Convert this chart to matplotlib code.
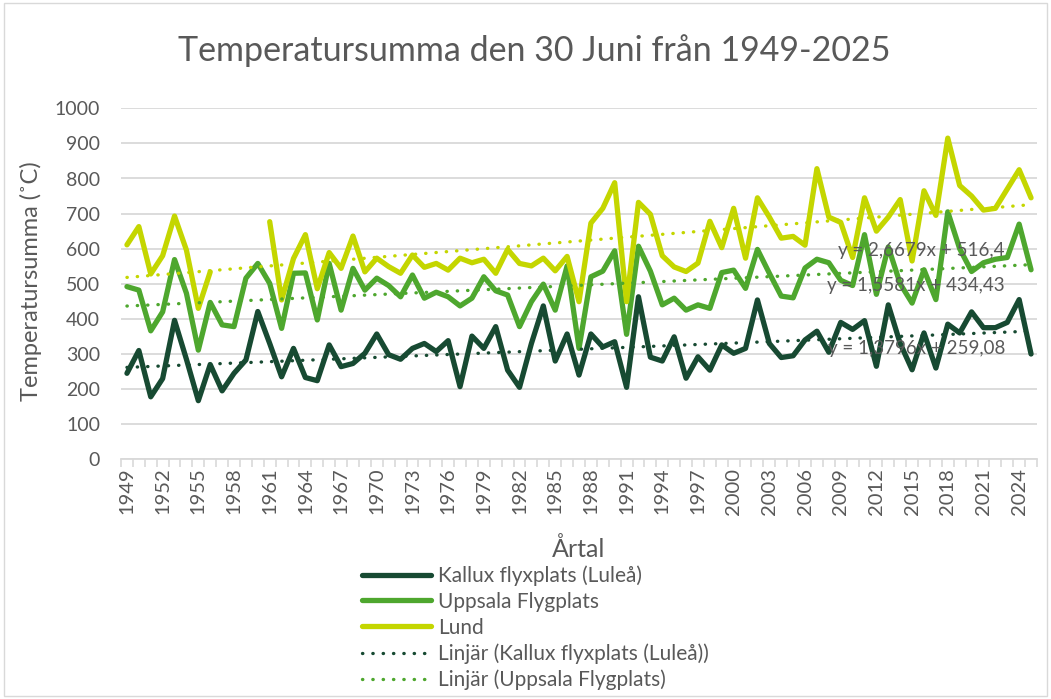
import numpy as np
import matplotlib.pyplot as plt
from matplotlib.patches import Rectangle

years = np.arange(1949, 2026)

kallux = [245, 310, 178, 230, 396, 285, 167, 270, 195, 245,
          283, 421, 330, 235, 316, 233, 224, 326, 264, 273,
          302, 357, 298, 285, 316, 330, 307, 338, 207, 351,
          316, 378, 254, 205, 330, 437, 280, 357, 240, 357,
          320, 335, 205, 463, 291, 280, 349, 231, 292, 254,
          326, 302, 316, 454, 330, 290, 295, 340, 365, 305,
          390, 370, 395, 265, 440, 330, 255, 360, 260, 385,
          360, 420, 375, 375, 390, 455, 300]

uppsala = [492, 482, 366, 420, 569, 473, 311, 447, 383, 378,
           516, 558, 501, 373, 530, 531, 397, 558, 425, 544,
           482, 516, 495, 463, 525, 459, 476, 463, 437, 459,
           520, 480, 468, 378, 449, 499, 425, 551, 316, 520,
           536, 594, 356, 607, 536, 440, 459, 425, 440, 430,
           532, 539, 487, 598, 530, 465, 460, 545, 570, 560,
           510, 495, 640, 470, 605, 500, 445, 540, 455, 705,
           600, 535, 560, 570, 575, 670, 540]

lund = [611, 663, 528, 580, 693, 596, 430, 534, None, None,
        None, None, 677, 454, 572, 640, 486, 589, 544, 636,
        534, 573, 549, 530, 582, 547, 558, 539, 573, 560,
        570, 530, 598, 558, 551, 573, 537, 578, 449, 673,
        715, 788, 449, 732, 698, 580, 548, 535, 559, 678,
        603, 715, 573, 745, 690, 630, 635, 610, 828, 690,
        675, 575, 745, 650, 690, 740, 565, 765, 695, 915,
        780, 750, 710, 715, 770, 825, 745]

names = ["Kallux flyxplats (Luleå)", "Uppsala Flygplats", "Lund"]
colors = ["#174a32", "#4ea72e", "#c4d600"]
equations = ["y = 1,3796x + 259,08", "y = 1,5581x + 434,43", "y = 2,6679x + 516,4"]

plt.rcParams['font.family'] = ['Lato', 'DejaVu Sans']
grey = '#595959'

fig = plt.figure(figsize=(10.51, 6.99), dpi=100)
W, H = 1051, 699
ax = fig.add_axes([121 / W, 1 - 459.3 / H, (1037 - 121) / W, (459.3 - 108.3) / H])

# data lines and linear trends
series = [np.array(s, dtype=float) for s in (kallux, uppsala, lund)]
idx = np.arange(1, len(years) + 1)
for vals, name, col in zip(series, names, colors):
    ax.plot(years, vals, color=col, lw=3.8, label=name,
            solid_capstyle='round', solid_joinstyle='round', zorder=3)

for i, (vals, name, col) in enumerate(zip(series, names, colors)):
    ok = ~np.isnan(vals)
    k, m = np.polyfit(idx[ok], vals[ok], 1)
    lab = 'Linjär (' + name + ')' if i < 2 else '_nolegend_'
    ax.plot(years, k * idx + m, color=col, lw=2.4, linestyle=(0, (0.1, 3.0)),
            dash_capstyle='round', label=lab, zorder=4)

ax.set_xlim(1948.5, 2025.5)
ax.set_ylim(0, 1000)
ax.set_yticks(range(0, 1001, 100))
ax.set_xticks(years[::3])
ax.set_xticks(np.arange(1948.5, 2026, 1), minor=True)
ax.tick_params(axis='x', which='major', length=0, labelrotation=90, labelsize=14.5,
               labelcolor=grey, pad=6)
ax.tick_params(axis='x', which='minor', length=6, color='#d9d9d9', width=1.2)
ax.tick_params(axis='y', length=0, labelsize=14, labelcolor=grey, pad=15)
ax.grid(axis='y', color='#d9d9d9', lw=1.3)
ax.set_axisbelow(True)
for s in ('top', 'right', 'left'):
    ax.spines[s].set_visible(False)
ax.spines['bottom'].set_color('#d9d9d9')
ax.spines['bottom'].set_linewidth(1.3)

# titles
fig.text(0.508, 1 - 51 / H, 'Temperatursumma den 30 Juni från 1949-2025',
         ha='center', va='center', fontsize=24.5, color=grey)
fig.text(31 / W, 1 - 281 / H, 'Temperatursumma (˚C)', rotation=90,
         ha='center', va='center', fontsize=17, color=grey)
fig.text(579 / W, 1 - 549 / H, 'Årtal', ha='center', va='center',
         fontsize=18, color=grey)

# trendline equations
for eq, yy in zip(equations, (348, 285, 250)):
    fig.text(1005 / W, 1 - yy / H, eq, ha='right', va='center',
             fontsize=13.5, color=grey, zorder=5)

h, l = ax.get_legend_handles_labels()
fig.legend(h, l, loc='upper left', bbox_to_anchor=(354 / W, 1 - 557 / H),
           frameon=False, fontsize=15, labelcolor=grey, handlelength=3.3,
           handletextpad=0.35, labelspacing=0.28, borderaxespad=0)

fig.patches.append(Rectangle((0.004, 0.004), 0.992, 0.992, transform=fig.transFigure,
                             fill=False, edgecolor='#d9d9d9', lw=1))

fig.savefig('out.png', dpi=100)
